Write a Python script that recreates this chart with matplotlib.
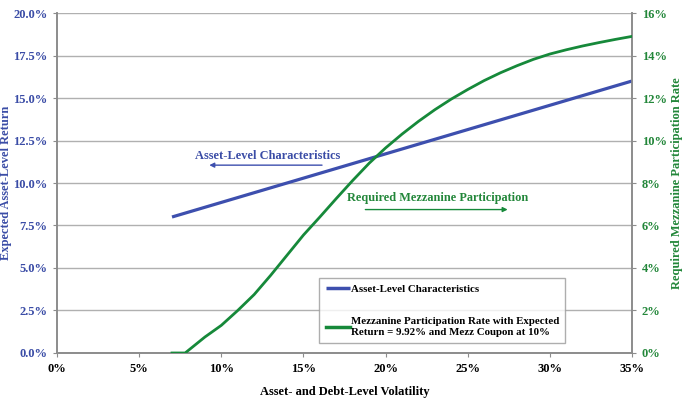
import matplotlib
matplotlib.use("Agg")
import matplotlib.pyplot as plt
from matplotlib.ticker import FuncFormatter, MultipleLocator

# volatility (%) for the asset-level line
asset_vol = [7, 35]
asset_return = [8.0, 16.0]

# required mezzanine participation rate (%), right axis
mezz_vol = [7, 7.8, 9, 10, 11, 12, 13, 14, 15, 16, 17, 18, 19, 20, 21, 22, 23, 24,
            25, 26, 27, 28, 29, 30, 31, 32, 33, 34, 35]
mezz_rate = [0.0, 0.0, 0.75, 1.3, 2.0, 2.75, 3.65, 4.6, 5.55, 6.4, 7.27, 8.12, 8.93,
             9.65, 10.3, 10.9, 11.45, 11.95, 12.4, 12.82, 13.19, 13.52, 13.82, 14.07,
             14.27, 14.45, 14.61, 14.76, 14.9]

BLUE = "#3d4fae"
GREEN = "#16893a"
BLUE_TEXT = "#3a4ca6"
GREEN_TEXT = "#23873a"
GRID = "#b0b0b0"
SPINE = "#8c8c8c"
FONT = "Liberation Serif"

plt.rcParams["font.family"] = [FONT, "DejaVu Serif"]
plt.rcParams["font.weight"] = "bold"

figure = plt.figure(figsize=(6.86, 3.98), dpi=100)
axis = figure.add_axes([0.0831, 0.1131, 0.9213 - 0.0831, 0.9673 - 0.1131])
right_axis = axis.twinx()

blue_line, = axis.plot(asset_vol, asset_return, color=BLUE, linewidth=2.3,
                       solid_capstyle="butt", zorder=3, label="Asset-Level Characteristics")
green_line, = right_axis.plot(mezz_vol, mezz_rate, color=GREEN, linewidth=2.0, zorder=3,
                              solid_joinstyle="round",
                              label="Mezzanine Participation Rate with Expected\nReturn = 9.92% and Mezz Coupon at 10%")

axis.set_xlim(0, 35)
axis.set_ylim(0, 20)
right_axis.set_ylim(0, 16)
axis.xaxis.set_major_locator(MultipleLocator(5))
axis.yaxis.set_major_locator(MultipleLocator(2.5))
right_axis.yaxis.set_major_locator(MultipleLocator(2))

axis.xaxis.set_major_formatter(FuncFormatter(lambda v, p: f"{v:.0f}%"))
axis.yaxis.set_major_formatter(FuncFormatter(lambda v, p: f"{v:.1f}%"))
right_axis.yaxis.set_major_formatter(FuncFormatter(lambda v, p: f"{v:.0f}%"))

axis.grid(axis="y", color=GRID, linewidth=1.0)
axis.set_axisbelow(True)

for ax in (axis, right_axis):
    for name, spine in ax.spines.items():
        spine.set_color(SPINE)
        spine.set_linewidth(1.2)
    ax.spines["top"].set_visible(False)

axis.tick_params(axis="x", colors=SPINE, labelcolor="black", labelsize=9, length=3, pad=4)
axis.tick_params(axis="y", colors=SPINE, labelcolor=BLUE_TEXT, labelsize=9, length=3, pad=4)
right_axis.tick_params(axis="y", colors=SPINE, labelcolor=GREEN_TEXT, labelsize=9, length=3, pad=4)

axis.set_xlabel("Asset- and Debt-Level Volatility", fontsize=9, fontweight="bold", labelpad=8)
axis.set_ylabel("Expected Asset-Level Return", fontsize=9, fontweight="bold",
                color=BLUE_TEXT, labelpad=0.5)
right_axis.set_ylabel("Required Mezzanine Participation Rate", fontsize=9, fontweight="bold",
                      color=GREEN_TEXT, labelpad=3)

# in-chart annotations with arrows
axis.text(8.4, 11.6, "Asset-Level Characteristics", color=BLUE_TEXT, fontsize=8.9,
          fontweight="bold", va="center", ha="left")
axis.annotate("", xy=(9.1, 11.05), xytext=(16.3, 11.05),
              arrowprops=dict(arrowstyle="-|>", color=BLUE, linewidth=1.0, mutation_scale=7))
right_axis.text(17.65, 7.3, "Required Mezzanine Participation", color=GREEN_TEXT, fontsize=8.8,
                fontweight="bold", va="center", ha="left")
right_axis.annotate("", xy=(27.6, 6.75), xytext=(18.6, 6.75),
                    arrowprops=dict(arrowstyle="-|>", color=GREEN, linewidth=1.0, mutation_scale=7))

legend = right_axis.legend(
    handles=[blue_line, green_line],
    loc="upper left",
    bbox_to_anchor=(319 / 686, 1 - 339 / 398, (565 - 319) / 686, (339 - 278) / 398),
    bbox_transform=figure.transFigure,
    mode="expand",
    fontsize=7.8,
    frameon=True,
    fancybox=False,
    edgecolor="#9a9a9a",
    handlelength=2.3,
    handletextpad=0.05,
    labelspacing=2.15,
    borderpad=0.6,
    borderaxespad=0,
)
legend.get_frame().set_linewidth(1.0)
for line in legend.get_lines():
    line.set_linewidth(2.5)

figure.savefig("out.png", dpi=100, facecolor="white")
